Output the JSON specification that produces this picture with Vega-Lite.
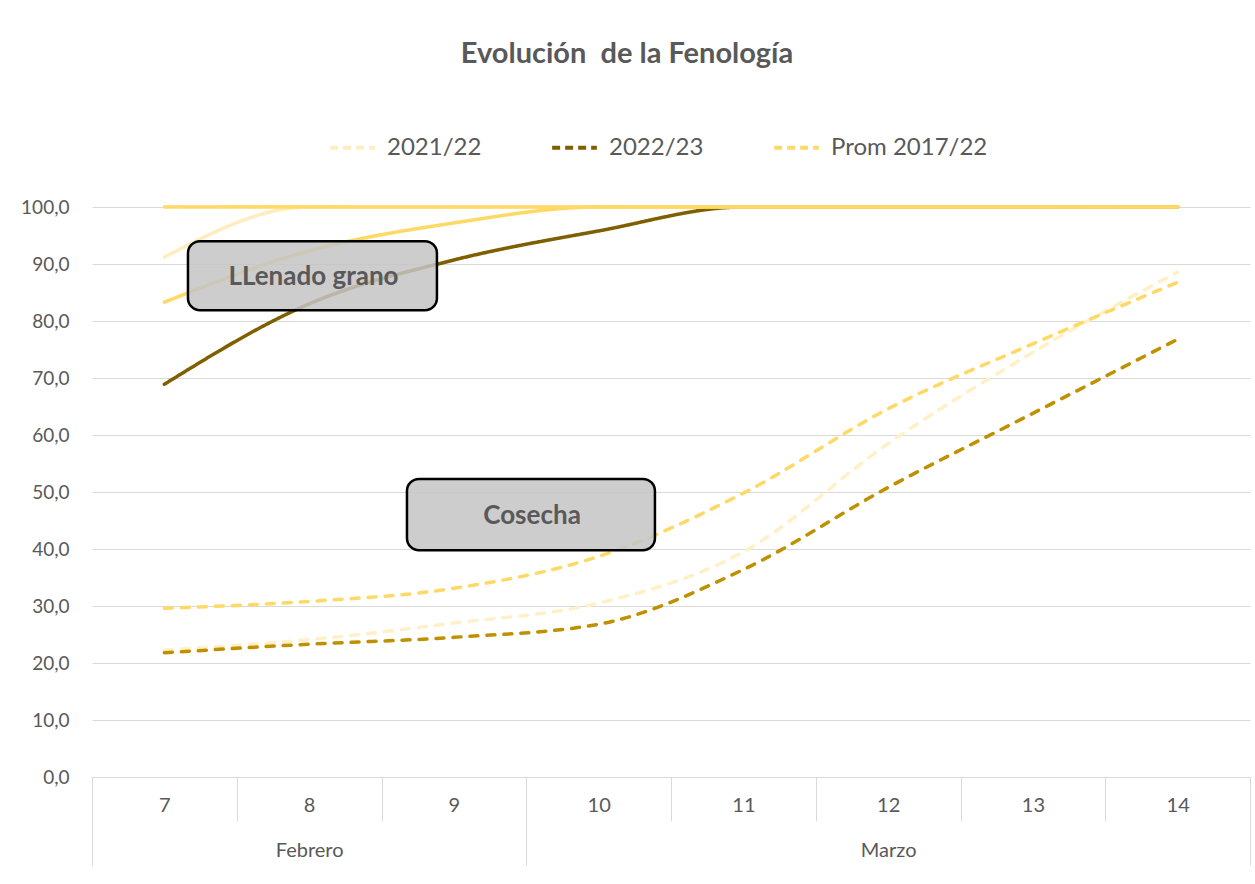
{
  "$schema": "https://vega.github.io/schema/vega-lite/v6.json",
  "autosize": {"type": "none"},
  "width": 1158,
  "height": 570,
  "padding": {"left": 92, "top": 207, "right": 5, "bottom": 107},
  "background": "white",
  "title": {
    "text": "Evolución\u00a0 de la Fenología",
    "anchor": "middle",
    "frame": "group",
    "dx": -44,
    "offset": 54,
    "font": "Lato",
    "fontSize": 29,
    "fontWeight": "bold",
    "color": "#595959"
  },
  "config": {
    "view": {"stroke": null},
    "font": "Lato"
  },
  "data": {
    "values": [
      {"dia": 7, "fase": "Llenado grano", "serie": "L 2021/22", "valor": 91.2},
      {"dia": 8, "fase": "Llenado grano", "serie": "L 2021/22", "valor": 100},
      {"dia": 9, "fase": "Llenado grano", "serie": "L 2021/22", "valor": 100},
      {"dia": 10, "fase": "Llenado grano", "serie": "L 2021/22", "valor": 100},
      {"dia": 11, "fase": "Llenado grano", "serie": "L 2021/22", "valor": 100},
      {"dia": 12, "fase": "Llenado grano", "serie": "L 2021/22", "valor": 100},
      {"dia": 13, "fase": "Llenado grano", "serie": "L 2021/22", "valor": 100},
      {"dia": 14, "fase": "Llenado grano", "serie": "L 2021/22", "valor": 100},

      {"dia": 7, "fase": "Llenado grano", "serie": "L 2022/23", "valor": 68.9},
      {"dia": 8, "fase": "Llenado grano", "serie": "L 2022/23", "valor": 83.0},
      {"dia": 9, "fase": "Llenado grano", "serie": "L 2022/23", "valor": 90.7},
      {"dia": 10, "fase": "Llenado grano", "serie": "L 2022/23", "valor": 95.8},
      {"dia": 11, "fase": "Llenado grano", "serie": "L 2022/23", "valor": 100},
      {"dia": 12, "fase": "Llenado grano", "serie": "L 2022/23", "valor": 100},
      {"dia": 13, "fase": "Llenado grano", "serie": "L 2022/23", "valor": 100},
      {"dia": 14, "fase": "Llenado grano", "serie": "L 2022/23", "valor": 100},

      {"dia": 7, "fase": "Llenado grano", "serie": "L Prom 2017/22", "valor": 83.3},
      {"dia": 8, "fase": "Llenado grano", "serie": "L Prom 2017/22", "valor": 92.3},
      {"dia": 9, "fase": "Llenado grano", "serie": "L Prom 2017/22", "valor": 97.2},
      {"dia": 10, "fase": "Llenado grano", "serie": "L Prom 2017/22", "valor": 100},
      {"dia": 11, "fase": "Llenado grano", "serie": "L Prom 2017/22", "valor": 100},
      {"dia": 12, "fase": "Llenado grano", "serie": "L Prom 2017/22", "valor": 100},
      {"dia": 13, "fase": "Llenado grano", "serie": "L Prom 2017/22", "valor": 100},
      {"dia": 14, "fase": "Llenado grano", "serie": "L Prom 2017/22", "valor": 100},

      {"dia": 7, "fase": "Floración", "serie": "F Prom 2017/22", "valor": 100},
      {"dia": 8, "fase": "Floración", "serie": "F Prom 2017/22", "valor": 100},
      {"dia": 9, "fase": "Floración", "serie": "F Prom 2017/22", "valor": 100},
      {"dia": 10, "fase": "Floración", "serie": "F Prom 2017/22", "valor": 100},
      {"dia": 11, "fase": "Floración", "serie": "F Prom 2017/22", "valor": 100},
      {"dia": 12, "fase": "Floración", "serie": "F Prom 2017/22", "valor": 100},
      {"dia": 13, "fase": "Floración", "serie": "F Prom 2017/22", "valor": 100},
      {"dia": 14, "fase": "Floración", "serie": "F Prom 2017/22", "valor": 100},

      {"dia": 7, "fase": "Cosecha", "serie": "C 2021/22", "valor": 22.3},
      {"dia": 8, "fase": "Cosecha", "serie": "C 2021/22", "valor": 24.1},
      {"dia": 9, "fase": "Cosecha", "serie": "C 2021/22", "valor": 27.0},
      {"dia": 10, "fase": "Cosecha", "serie": "C 2021/22", "valor": 30.5},
      {"dia": 11, "fase": "Cosecha", "serie": "C 2021/22", "valor": 39.5},
      {"dia": 12, "fase": "Cosecha", "serie": "C 2021/22", "valor": 58.5},
      {"dia": 13, "fase": "Cosecha", "serie": "C 2021/22", "valor": 74.5},
      {"dia": 14, "fase": "Cosecha", "serie": "C 2021/22", "valor": 88.6},

      {"dia": 7, "fase": "Cosecha", "serie": "C Prom 2017/22", "valor": 29.6},
      {"dia": 8, "fase": "Cosecha", "serie": "C Prom 2017/22", "valor": 30.8},
      {"dia": 9, "fase": "Cosecha", "serie": "C Prom 2017/22", "valor": 33.1},
      {"dia": 10, "fase": "Cosecha", "serie": "C Prom 2017/22", "valor": 38.7},
      {"dia": 11, "fase": "Cosecha", "serie": "C Prom 2017/22", "valor": 49.8},
      {"dia": 12, "fase": "Cosecha", "serie": "C Prom 2017/22", "valor": 64.6},
      {"dia": 13, "fase": "Cosecha", "serie": "C Prom 2017/22", "valor": 76.0},
      {"dia": 14, "fase": "Cosecha", "serie": "C Prom 2017/22", "valor": 86.8},

      {"dia": 7, "fase": "Cosecha", "serie": "C 2022/23", "valor": 21.8},
      {"dia": 8, "fase": "Cosecha", "serie": "C 2022/23", "valor": 23.3},
      {"dia": 9, "fase": "Cosecha", "serie": "C 2022/23", "valor": 24.5},
      {"dia": 10, "fase": "Cosecha", "serie": "C 2022/23", "valor": 26.8},
      {"dia": 11, "fase": "Cosecha", "serie": "C 2022/23", "valor": 36.4},
      {"dia": 12, "fase": "Cosecha", "serie": "C 2022/23", "valor": 50.8},
      {"dia": 13, "fase": "Cosecha", "serie": "C 2022/23", "valor": 63.8},
      {"dia": 14, "fase": "Cosecha", "serie": "C 2022/23", "valor": 76.8}
    ]
  },
  "layer": [
    {
      "mark": {"type": "line", "interpolate": "monotone", "strokeWidth": 3.5, "strokeCap": "round"},
      "encoding": {
        "x": {
          "field": "dia",
          "type": "quantitative",
          "scale": {"domain": [6.5, 14.5], "nice": false, "zero": false},
          "axis": {
            "title": null,
            "grid": false,
            "values": [6.5, 7.5, 8.5, 9.5, 10.5, 11.5, 12.5, 13.5, 14.5],
            "domainColor": "#d9d9d9",
            "domainWidth": 1,
            "tickColor": "#d9d9d9",
            "tickWidth": 1,
            "tickSize": {"condition": {"test": "datum.value == 6.5 || datum.value == 9.5 || datum.value == 14.5", "value": 88}, "value": 44},
            "labelOffset": 72.4,
            "labelPadding": {"condition": {"test": "datum.value == 6.5 || datum.value == 9.5 || datum.value == 14.5", "value": -70}, "value": -26},
            "labelAlign": "center",
            "labelBaseline": "top",
            "labelFlush": false,
            "labelOverlap": false,
            "labelFont": "Lato",
            "labelFontSize": 20,
            "labelColor": "#595959",
            "labelLineHeight": 45,
            "labelExpr": "datum.value == 14.5 ? '' : datum.value == 7.5 ? ['8', 'Febrero'] : datum.value == 11.5 ? ['12', 'Marzo'] : format(datum.value + 0.5, 'd')"
          }
        },
        "y": {
          "field": "valor",
          "type": "quantitative",
          "scale": {"domain": [0, 100], "nice": false},
          "axis": {
            "title": null,
            "values": [0, 10, 20, 30, 40, 50, 60, 70, 80, 90, 100],
            "domain": false,
            "ticks": false,
            "gridColor": "#d9d9d9",
            "gridWidth": 1,
            "labelPadding": 23,
            "labelFont": "Lato",
            "labelFontSize": 19,
            "labelColor": "#595959",
            "labelExpr": "replace(format(datum.value, '.1f'), '.', ',')"
          }
        },
        "color": {
          "field": "serie",
          "type": "nominal",
          "scale": {
            "domain": ["F Prom 2017/22", "L 2021/22", "L 2022/23", "L Prom 2017/22", "C 2021/22", "C 2022/23", "C Prom 2017/22"],
            "range": ["#FFD966", "#FFEDC0", "#7F6000", "#FFD966", "#FFF0C8", "#BF9000", "#FFD966"]
          },
          "legend": {
            "title": null,
            "values": ["L 2021/22", "L 2022/23", "L Prom 2017/22"],
            "labelExpr": "slice(datum.label, 2)",
            "orient": "none",
            "direction": "horizontal",
            "columns": 3,
            "gridAlign": "all",
            "columnPadding": 0,
            "legendX": 236,
            "legendY": -84,
            "symbolType": "stroke",
            "symbolSize": 2000,
            "symbolStrokeWidth": 4,
            "symbolDash": [8, 5],
            "labelFont": "Lato",
            "labelFontSize": 24,
            "labelLimit": 400,
            "labelColor": "#595959",
            "labelOffset": 10
          }
        },
        "strokeDash": {
          "field": "fase",
          "type": "nominal",
          "scale": {"domain": ["Floración", "Llenado grano", "Cosecha"], "range": [[1, 0], [1, 0], [8, 9]]},
          "legend": null
        },
        "detail": {"field": "serie"}
      }
    },
    {
      "data": {"values": [{"etiqueta": "LLenado grano"}]},
      "mark": {"type": "rect", "cornerRadius": 12, "fill": "#C4C4C4", "fillOpacity": 0.85, "stroke": "#000000", "strokeWidth": 2.5},
      "encoding": {
        "x": {"datum": 7.163, "type": "quantitative"},
        "x2": {"datum": 8.883},
        "y": {"datum": 94.0, "type": "quantitative"},
        "y2": {"datum": 81.9}
      }
    },
    {
      "data": {"values": [{"etiqueta": "LLenado grano"}]},
      "mark": {"type": "text", "font": "Lato", "fontSize": 26, "fontWeight": "bold", "fill": "#595959", "align": "center", "baseline": "middle"},
      "encoding": {
        "x": {"datum": 8.03, "type": "quantitative"},
        "y": {"datum": 87.8, "type": "quantitative"},
        "text": {"field": "etiqueta"}
      }
    },
    {
      "data": {"values": [{"etiqueta": "Cosecha"}]},
      "mark": {"type": "rect", "cornerRadius": 12, "fill": "#C4C4C4", "fillOpacity": 0.85, "stroke": "#000000", "strokeWidth": 2.5},
      "encoding": {
        "x": {"datum": 8.676, "type": "quantitative"},
        "x2": {"datum": 10.389},
        "y": {"datum": 52.3, "type": "quantitative"},
        "y2": {"datum": 39.8}
      }
    },
    {
      "data": {"values": [{"etiqueta": "Cosecha"}]},
      "mark": {"type": "text", "font": "Lato", "fontSize": 26, "fontWeight": "bold", "fill": "#595959", "align": "center", "baseline": "middle"},
      "encoding": {
        "x": {"datum": 9.54, "type": "quantitative"},
        "y": {"datum": 45.8, "type": "quantitative"},
        "text": {"field": "etiqueta"}
      }
    }
  ]
}
